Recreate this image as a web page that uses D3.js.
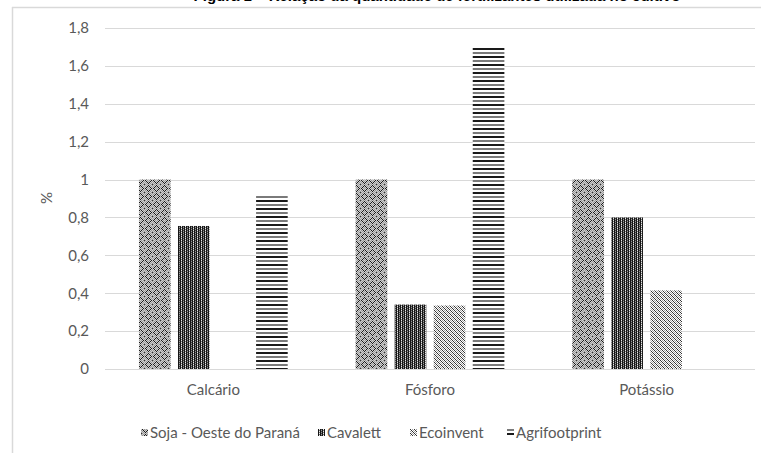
<!DOCTYPE html>
<html>
<head>
<meta charset="utf-8">
<script src="https://cdn.jsdelivr.net/npm/d3@7"></script>
<style>
  html, body { margin: 0; padding: 0; background: #fff; }
  svg { display: block; }
  text { font-family: Lato, "Open Sans", sans-serif; }
</style>
</head>
<body>
<svg id="chart" width="761" height="453"></svg>
<script>
// Fertiliser quantities relative to the regional soybean reference
const categories = ["Calcário", "Fósforo", "Potássio"];
const seriesNames = ["Soja - Oeste do Paraná", "Cavalett", "Ecoinvent", "Agrifootprint"];
const sojaValues = [1, 1, 1];
const cavalettValues = [0.755, 0.34, 0.80];
const ecoinventValues = [0, 0.335, 0.415];
const agrifootprintValues = [0.92, 1.70, 0];
const yTicks = [0, 0.2, 0.4, 0.6, 0.8, 1, 1.2, 1.4, 1.6, 1.8];
const titleText = "Figura 1 – Relação da quantidade de fertilizantes utilizada no cultivo";

const series = [sojaValues, cavalettValues, ecoinventValues, agrifootprintValues];

const svg = d3.select("#chart");
const W = 761, H = 453;
const plot = { left: 105, right: 755, top: 28, bottom: 369 };

// ---- fill patterns ----
const defs = svg.append("defs");
function pixelPattern(id, w, h, bg, cells) {
  const p = defs.append("pattern").attr("id", id)
    .attr("patternUnits", "userSpaceOnUse").attr("width", w).attr("height", h);
  p.append("rect").attr("width", w).attr("height", h).attr("fill", bg);
  cells.forEach(c => p.append("rect").attr("x", c[0]).attr("y", c[1])
    .attr("width", c[2] || 1).attr("height", c[3] || 1).attr("fill", c[4]));
  return p;
}
// Soja: grey checker with dark diamond dots
(function () {
  const cells = [];
  for (let y = 0; y < 8; y++) for (let x = 0; x < 8; x++) {
    if ((x + y) % 2 === 0) cells.push([x, y, 1, 1, "#d0d0d0"]);
    const d = Math.abs(x - 4) + Math.abs(y - 4);
    if (d === 3 && (x + y) % 2 === 1) cells.push([x, y, 1, 1, "#1a1a1a"]);
  }
  cells.push([0, 0, 1, 1, "#333"]);
  pixelPattern("pSoja", 8, 8, "#969696", cells);
})();
// Cavalett: dark with thin light vertical strands
(function () {
  const cells = [];
  for (let y = 0; y < 4; y++) {
    cells.push([1, y, 1, 1, y % 2 === 0 ? "#e8e8e8" : "#777"]);
    cells.push([3, y, 1, 1, y % 2 === 1 ? "#999" : "#444"]);
  }
  pixelPattern("pCav", 4, 4, "#151515", cells);
})();
// Ecoinvent: downward diagonal lines
(function () {
  const cells = [];
  for (let i = 0; i < 4; i++) {
    cells.push([i, i, 1, 1, "#333"]);
    cells.push([(i + 2) % 4, i, 1, 1, "#a0a0a0"]);
  }
  pixelPattern("pEco", 4, 4, "#fff", cells);
})();
// Agrifootprint: horizontal lines
pixelPattern("pAgri", 8, 8, "#fff", [[0, 0, 8, 2, "#1a1a1a"], [0, 4, 8, 2, "#7a7a7a"]]);

const fills = ["url(#pSoja)", "url(#pCav)", "url(#pEco)", "url(#pAgri)"];

// ---- frame ----
svg.append("line").attr("x1", 12).attr("x2", W).attr("y1", 7.5).attr("y2", 7.5)
  .attr("stroke", "#d9d9d9").attr("stroke-width", 1.5);
svg.append("line").attr("x1", 12.5).attr("x2", 12.5).attr("y1", 7).attr("y2", H)
  .attr("stroke", "#d9d9d9").attr("stroke-width", 1.5);

// title (lies mostly above the top edge)
svg.append("text").attr("x", 437).attr("y", 0.5).attr("text-anchor", "middle")
  .attr("font-size", 15).attr("font-weight", "bold").attr("fill", "#000")
  .style("font-family", "'Liberation Sans', sans-serif")
  .text(titleText);

// ---- scales ----
const x0 = d3.scaleBand().domain(categories).range([plot.left, plot.right]).paddingInner(0).paddingOuter(0);
const x1 = d3.scaleBand().domain(d3.range(seriesNames.length)).range([0, x0.bandwidth()])
  .paddingInner(0.19).paddingOuter(0.87);
const y = d3.scaleLinear().domain([0, 1.8]).range([plot.bottom, plot.top]);

// gridlines
svg.append("g").selectAll("line").data(yTicks).join("line")
  .attr("x1", plot.left).attr("x2", plot.right)
  .attr("y1", d => Math.round(y(d)) + 0.5).attr("y2", d => Math.round(y(d)) + 0.5)
  .attr("stroke", "#d9d9d9").attr("stroke-width", 1);

// y axis labels
const yAxis = d3.axisLeft(y).tickValues(yTicks).tickSize(0).tickPadding(0)
  .tickFormat(d => String(d).replace(".", ","));
const ya = svg.append("g").attr("transform", `translate(${plot.left - 16},0)`).call(yAxis);
ya.select(".domain").remove();
ya.selectAll("text").attr("font-size", 15).attr("fill", "#595959")
  .style("font-family", "Lato, sans-serif");

// x axis labels
const xAxis = d3.axisBottom(x0).tickSize(0).tickPadding(0);
const xa = svg.append("g").attr("transform", `translate(0,${plot.bottom + 15})`).call(xAxis);
xa.select(".domain").remove();
xa.selectAll("text").attr("font-size", 15).attr("fill", "#595959")
  .style("font-family", "Lato, sans-serif");

// y axis title
svg.append("text").attr("transform", "translate(52,198) rotate(-90)")
  .attr("text-anchor", "middle").attr("font-size", 15).attr("fill", "#595959").text("%");

// ---- bars ----
const rows = [];
categories.forEach((c, ci) => series.forEach((s, si) => {
  if (s[ci] > 0) rows.push({ c, si, v: s[ci] });
}));
svg.append("g").selectAll("rect").data(rows).join("rect")
  .attr("x", d => x0(d.c) + x1(d.si))
  .attr("width", x1.bandwidth())
  .attr("y", d => y(d.v))
  .attr("height", d => y(0) - y(d.v))
  .attr("fill", d => fills[d.si]);

// ---- legend ----
const legendX = [141, 318, 410, 507];
const lg = svg.append("g").selectAll("g").data(seriesNames).join("g")
  .attr("transform", (d, i) => `translate(${legendX[i]},433)`);
lg.append("rect").attr("x", 0).attr("y", -4).attr("width", 7).attr("height", 7)
  .attr("fill", (d, i) => fills[i]);
lg.append("text").attr("x", 9).attr("y", 0).attr("dy", "0.35em")
  .attr("font-size", 15).attr("fill", "#595959").text(d => d);
</script>
</body>
</html>
